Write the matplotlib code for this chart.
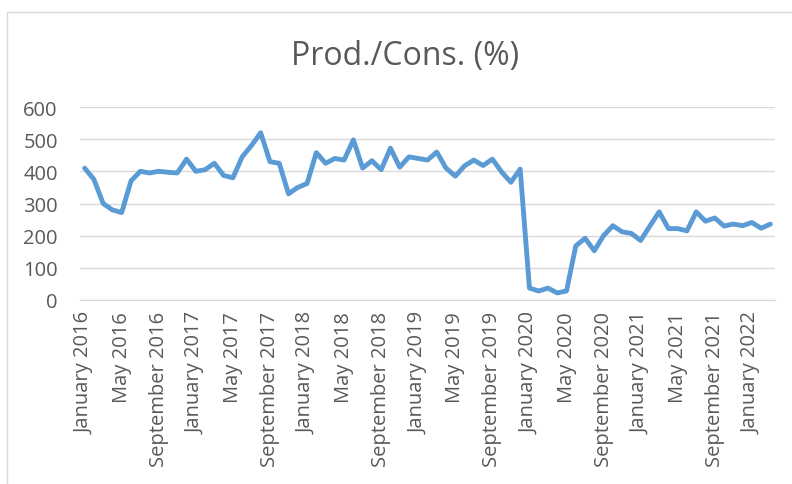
import matplotlib.pyplot as plt
import numpy as np
from matplotlib.patches import Rectangle

plt.rcParams['font.family'] = ['Open Sans', 'DejaVu Sans']

months = ["January", "February", "March", "April", "May", "June", "July",
          "August", "September", "October", "November", "December"]
years = [2016, 2017, 2018, 2019, 2020, 2021, 2022]

# monthly values, January 2016 .. March 2022
values = [
    410, 375, 300, 280, 272, 370, 400, 395, 400, 397, 395, 438,   # 2016
    400, 405, 425, 387, 380, 445, 480, 520, 430, 425, 330, 350,   # 2017
    362, 458, 425, 440, 435, 498, 410, 433, 405, 472, 413, 445,   # 2018
    440, 435, 460, 410, 385, 417, 435, 418, 438, 398, 366, 407,   # 2019
    37, 28, 37, 22, 28, 168, 192, 153, 200, 231, 212, 207,        # 2020
    185, 230, 274, 222, 222, 215, 274, 245, 255, 230, 236, 231,   # 2021
    241, 223, 236,                                                # 2022
]
labels = [f"{months[i % 12]} {years[i // 12]}" for i in range(len(values))]

fig = plt.figure(figsize=(7.92, 4.85), dpi=100)
fig.patches.append(Rectangle((7 / 792, -0.1), 1.2, 1 - 13 / 485 + 0.1,
                             transform=fig.transFigure, fill=False,
                             edgecolor="#D9D9D9", linewidth=1))

ax = fig.add_axes([80 / 792, 1 - 301 / 485, 695 / 792, 193 / 485])
x = np.arange(len(values))
ax.plot(x, values, color="#5B9BD5", linewidth=3.5, solid_joinstyle="round",
        solid_capstyle="round", zorder=3)

ax.set_xlim(-0.5, len(values) - 0.5)
ax.set_ylim(0, 600)
ax.set_yticks(range(0, 601, 100))
ax.set_xticks(x[::4])
ax.set_xticklabels(labels[::4], rotation=90)
ax.grid(axis="y", color="#D9D9D9", linewidth=1)
ax.set_axisbelow(True)
for side in ["top", "right", "left"]:
    ax.spines[side].set_visible(False)
ax.spines["bottom"].set_color("#D9D9D9")
ax.tick_params(axis="both", length=0, labelsize=14.5, colors="#595959")
ax.tick_params(axis="y", pad=16)
ax.tick_params(axis="x", pad=8)

fig.text(0.512, 1 - 57 / 485, "Prod./Cons. (%)", ha="center", va="center",
         fontsize=23, color="#595959")

fig.savefig("out.png", dpi=100)
